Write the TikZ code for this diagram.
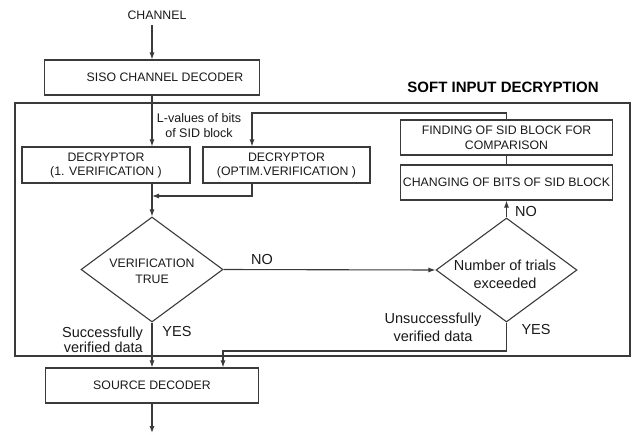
\documentclass[tikz,border=0pt]{standalone}
\usepackage{fontspec}
\setmainfont{Liberation Sans}
\usetikzlibrary{shapes.geometric,arrows.meta}
\definecolor{ln}{HTML}{3A3A3A}
\begin{document}
\begin{tikzpicture}[x=1pt,y=-1pt,
  capf/.style={font=\fontsize{12.3}{14}\selectfont, inner sep=0pt, align=center, text=black!90},
  lowf/.style={font=\fontsize{14.5}{15}\selectfont, inner sep=0pt, align=center, text=black!90},
  box/.style={draw=ln, line width=1.1pt, inner sep=0pt, capf},
  dia/.style={draw=ln, line width=1.1pt, diamond, inner sep=0pt},
  wire/.style={draw=ln, line width=1.1pt},
  arr/.style={wire, -{Latex[length=7pt,width=5pt]}}]
\useasboundingbox (0,0) rectangle (636,436);
% nodes
\node[capf] (chan) at (157,15) {CHANNEL};
\coordinate (chanpt) at (152,25);
\node[box, minimum width=215, minimum height=35] (siso) at (152,77.5) {};
\node[capf] (sisot) at (165,77.5) {SISO CHANNEL DECODER};
\node[draw=ln, line width=1.1pt, minimum width=615, minimum height=253, inner sep=0pt] (sid) at (322.5,229.5) {};
\node[font=\bfseries\fontsize{15}{17}\selectfont, inner sep=0pt] (tit) at (503,87) {SOFT INPUT DECRYPTION};
\node[capf, font=\fontsize{12.5}{15}\selectfont] (lval) at (199,125.5) {L-values of bits\\of SID block};
\node[box, minimum width=168, minimum height=36] (dec1) at (106,165) {DECRYPTOR\\(1. VERIFICATION )};
\node[box, minimum width=167, minimum height=36] (dec2) at (286.5,165) {DECRYPTOR\\(OPTIM.VERIFICATION )};
\node[box, minimum width=212, minimum height=35, font=\fontsize{12.3}{15}\selectfont] (find) at (506.5,137.5) {FINDING OF SID BLOCK FOR\\COMPARISON};
\node[box, minimum width=212, minimum height=35] (chg) at (506.5,182.5) {CHANGING OF BITS OF SID BLOCK};
\node[dia, minimum width=142, minimum height=105] (d1) at (152,269.5) {};
\node[capf, font=\fontsize{12.3}{16}\selectfont] (d1t) at (152,271) {VERIFICATION\\TRUE};
\node[dia, minimum width=141, minimum height=104] (d2) at (506.5,270) {};
\node[lowf, font=\fontsize{14.5}{18}\selectfont] (d2t) at (505,274) {Number of trials\\exceeded};
\node[box, minimum width=213, minimum height=35] (src) at (152,385.5) {SOURCE DECODER};
\coordinate (out) at (152,433);
\coordinate (lp) at (252,113);
\coordinate (m) at (152,196);
\coordinate (j) at (223,351);
% labels
\node[lowf] (no1) at (262,260) {NO};
\node[lowf] (no2) at (526,212) {NO};
\node[lowf] (yes1) at (177,332) {YES};
\node[lowf] (yes2) at (536,330) {YES};
\node[lowf, align=right, anchor=east] (succ) at (143,339.5) {Successfully\\verified data};
\node[lowf, font=\fontsize{14.5}{18}\selectfont] (unsu) at (433,327) {Unsuccessfully\\verified data};
% connectors
\draw[arr] (chanpt) -- (chanpt |- siso.north);
\draw[arr] (siso.south) -- (siso.south |- dec1.north);
\draw[arr] (find.north) |- (lp) -- (lp |- dec2.north);
\draw[arr] (lp |- dec2.south) |- (m);
\draw[arr] (siso.south |- dec1.south) -- (d1.north);
\draw[wire] (find.south) -- (chg.north);
\draw[arr] (d2.north) -- (chg.south);
\draw[arr] (d1.east) -- (d2.west);
\draw[arr] (d1.south) -- (src.north);
\draw[arr] (d2.south) |- (j) -- (j |- src.north);
\draw[arr] (src.south) -- (out);
\end{tikzpicture}
\end{document}
